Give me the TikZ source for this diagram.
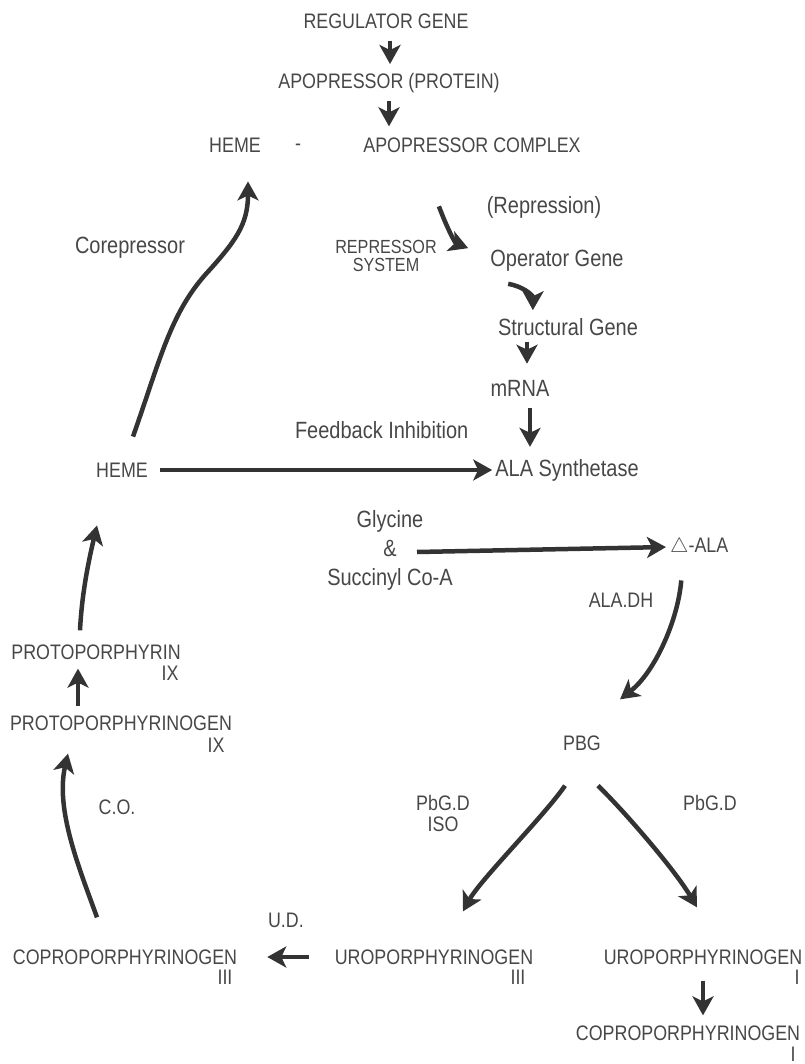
\documentclass[tikz,border=0pt]{standalone}
\usepackage{fontspec}
\setmainfont[FakeStretch=0.85]{Liberation Sans}
\usetikzlibrary{arrows.meta}

\begin{document}
\begin{tikzpicture}[x=1pt, y=-1pt,
  every node/.style={text=black!72, inner sep=2pt},
  capsnode/.style={font=\fontsize{21}{18}\selectfont},
  textnode/.style={font=\fontsize{23.5}{29}\selectfont},
  flow/.style={draw=black!80, line width=4.5pt, -{Stealth[length=19pt,width=21pt,inset=5pt]}}]
\useasboundingbox (0,0) rectangle (804,1064);

% repressor side
\node[capsnode] (reg) at (386,21) {REGULATOR GENE};
\node[capsnode] (apo) at (389,83) {APOPRESSOR (PROTEIN)};
\node[capsnode] (hemeT) at (235,145) {HEME};
\node[capsnode] (dash) at (298,147) {-};
\node[capsnode] (cplx) at (472,145) {APOPRESSOR COMPLEX};
\node[textnode] (corep) at (130,248) {Corepressor};
\node[textnode] (repr) at (544,207) {(Repression)};
\node[capsnode, align=center, font=\fontsize{19}{17.5}\selectfont] (rep) at (386,256) {REPRESSOR\\SYSTEM};
\node[textnode] (oper) at (557,261) {Operator Gene};
\node[textnode] (struct) at (568,327) {Structural Gene};
\node[textnode] (mrna) at (520,388) {mRNA};
\node[textnode] (synth) at (567,470) {ALA Synthetase};
\node[capsnode] (hemeL) at (122,470) {HEME};

% synthesis
\node[textnode, align=center] (gly) at (390,550) {Glycine\\\&\\Succinyl Co-A};
\node[capsnode, anchor=west] (ala) at (668,547) {$\bigtriangleup$-ALA};
\node[capsnode] (aladh) at (621,600) {ALA.DH};
\node[capsnode] (pbg) at (582,743) {PBG};
\node[capsnode, align=center, font=\fontsize{21}{21}\selectfont] (isolbl) at (443,813) {PbG.D\\ISO};
\node[capsnode] (pbgd) at (710,803) {PbG.D};
\node[capsnode] (uro3) at (434,957) {UROPORPHYRINOGEN};
\node[capsnode] (uro3n) at (518,977) {III};
\node[capsnode] (uro1) at (703,957) {UROPORPHYRINOGEN};
\node[capsnode] (uro1n) at (797,977) {I};
\node[capsnode] (copro1) at (688,1033) {COPROPORPHYRINOGEN};
\node[capsnode] (copro1n) at (793,1054) {I};
\node[capsnode] (copro3) at (125,957) {COPROPORPHYRINOGEN};
\node[capsnode] (copro3n) at (225,977) {III};
\node[capsnode] (colbl) at (117,807) {C.O.};
\node[capsnode] (protog) at (121,723) {PROTOPORPHYRINOGEN};
\node[capsnode] (protogn) at (216,745) {IX};
\node[capsnode] (proto) at (96,652) {PROTOPORPHYRIN};
\node[capsnode] (proton) at (170,673) {IX};

% top chain
\draw[flow, shorten <=10pt, shorten >=7pt] ([xshift=4pt]reg.south) -- ([xshift=1pt]apo.north);
\draw[flow, shorten <=6pt, shorten >=9pt] (apo.south) -- (apo.south |- cplx.north);
\draw[flow] ([yshift=32pt]rep.north east) .. controls (447,228) and (455,243) .. ([xshift=-20pt]oper.north west);
\draw[flow] ([xshift=20pt,yshift=-10pt]oper.south west) .. controls (522,286) and (533,295) .. ([xshift=37pt,yshift=6pt]struct.north west);
\draw[flow, shorten <=4pt, shorten >=14pt] ([xshift=-41pt]struct.south) -- ([xshift=7pt]mrna.north);
\draw[flow, shorten <=10pt, shorten >=10pt] ([xshift=10pt]mrna.south) -- ([xshift=-37pt]synth.north);

% feedback and corepressor
\draw[flow, shorten <=10pt, shorten >=1pt] (hemeL.east) -- (synth.west)
  node[textnode, pos=0.675, yshift=40pt] (fblbl) {Feedback Inhibition};
\draw[flow] ([xshift=11pt,yshift=24pt]hemeL.north) .. controls (160,360) and (170,315) .. (205,275)
  .. controls (235,242) and (248,225) .. ([xshift=13pt,yshift=-27pt]hemeT.south);

% porphyrin path
\draw[flow, shorten >=2pt] ([xshift=27pt,yshift=-2pt]gly.center) -- (ala.west);
\draw[flow] ([xshift=-18pt,yshift=-22pt]ala.south) .. controls (678,620) and (655,672) .. ([xshift=38pt,yshift=34pt]pbg.north);
\draw[flow] ([xshift=-17pt,yshift=-33pt]pbg.south) .. controls (545,815) and (480,880) .. ([xshift=29pt,yshift=36pt]uro3.north);
\draw[flow] ([xshift=16pt,yshift=-33pt]pbg.south) .. controls (625,812) and (675,870) .. ([xshift=-6pt,yshift=40pt]uro1.north);
\draw[flow, shorten <=14pt, shorten >=8pt] (uro1.south) -- (uro1.south |- copro1.north);
\draw[flow, shorten <=24pt, shorten >=28pt] (uro3.west) -- (copro3.east)
  node[capsnode, midway, yshift=37pt] (udlbl) {U.D.};
\draw[flow] ([xshift=-28pt,yshift=30pt]copro3.north) .. controls (80,870) and (55,810) .. ([xshift=-53pt,yshift=-21pt]protog.south);
\draw[flow, shorten <=7pt, shorten >=7pt] ([xshift=-43pt]protog.north) -- ([xshift=-18pt]proto.south);
\draw[flow] ([xshift=-16pt,yshift=12pt]proto.north) .. controls (82,590) and (90,555) .. ([xshift=-25pt,yshift=-46pt]hemeL.south);
\end{tikzpicture}
\end{document}
